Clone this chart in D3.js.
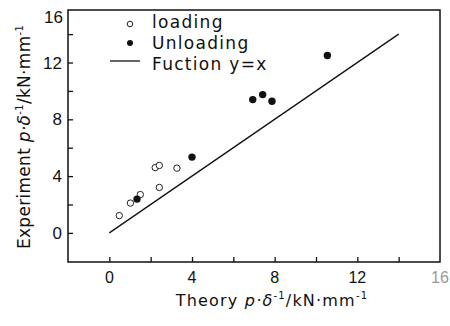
<!DOCTYPE html>
<html>
<head>
<meta charset="utf-8">
<script src="https://cdn.jsdelivr.net/npm/d3@7"></script>
<style>
  body { margin: 0; background: #fff; }
  svg { font-family: "DejaVu Sans", sans-serif; }
</style>
</head>
<body>
<div id="chart"></div>
<script>
const FRAME_WIDTH = 450;
const FRAME_HEIGHT = 326;
const MARGINS = {left: 68, right: 10, top: 10, bottom: 64};

const VIS_WIDTH = FRAME_WIDTH - MARGINS.left - MARGINS.right;
const VIS_HEIGHT = FRAME_HEIGHT - MARGINS.top - MARGINS.bottom;

// data
const loadingX = [0.48, 1.02, 1.5, 2.22, 2.42, 2.42, 3.27];
const loadingY = [1.22, 2.1, 2.7, 4.6, 4.75, 3.2, 4.56];
const unloadingX = [1.34, 4.0, 6.94, 7.42, 7.87, 10.55];
const unloadingY = [2.38, 5.34, 9.39, 9.74, 9.27, 12.5];
const lineX = [0, 14];
const majorTicks = [0, 4, 8, 12];
const minorTicks = [2, 6, 10, 14];

const FRAME = d3.select("#chart")
  .append("svg")
    .attr("width", FRAME_WIDTH)
    .attr("height", FRAME_HEIGHT);

const X_SCALE = d3.scaleLinear().domain([-2, 16]).range([0, VIS_WIDTH]);
const Y_SCALE = d3.scaleLinear().domain([-2.05, 15.7]).range([VIS_HEIGHT, 0]);

const g = FRAME.append("g")
  .attr("transform", "translate(" + MARGINS.left + "," + MARGINS.top + ")");

// frame
g.append("rect")
  .attr("width", VIS_WIDTH)
  .attr("height", VIS_HEIGHT)
  .attr("fill", "none")
  .attr("stroke", "#111")
  .attr("stroke-width", 1.5);

// x axis, ticks pointing inward
const xAxis = g.append("g")
  .attr("transform", "translate(0," + VIS_HEIGHT + ")")
  .call(d3.axisTop(X_SCALE).tickValues(majorTicks.concat(minorTicks)).tickSize(5).tickFormat(""));
xAxis.select(".domain").remove();
xAxis.selectAll("line").attr("stroke", "#111").attr("stroke-width", 1.3);

const xLabels = majorTicks.concat([16]);
g.selectAll(".xlab")
  .data(xLabels)
  .enter()
  .append("text")
    .attr("x", (d) => X_SCALE(d))
    .attr("y", VIS_HEIGHT + 21)
    .attr("text-anchor", "middle")
    .attr("font-family", "Liberation Sans, sans-serif")
    .attr("font-size", 16)
    .attr("fill", (d) => d === 16 ? "#999" : "#111")
    .text((d) => d);

// y axis, ticks pointing inward
const yAxis = g.append("g")
  .call(d3.axisRight(Y_SCALE).tickValues(majorTicks.concat(minorTicks)).tickSize(5).tickFormat(""));
yAxis.select(".domain").remove();
yAxis.selectAll("line").attr("stroke", "#111").attr("stroke-width", 1.3);

g.selectAll(".ylab")
  .data(majorTicks)
  .enter()
  .append("text")
    .attr("x", -6)
    .attr("y", (d) => Y_SCALE(d) + 6)
    .attr("text-anchor", "end")
    .attr("font-family", "Liberation Sans, sans-serif")
    .attr("font-size", 17)
    .attr("fill", "#111")
    .text((d) => d);

// "16" sits against the top of the frame
g.append("text")
  .attr("x", -5)
  .attr("y", 13)
  .attr("text-anchor", "end")
  .attr("font-family", "Liberation Sans, sans-serif")
  .attr("font-size", 17)
  .attr("fill", "#111")
  .text("16");

// y = x line
g.append("line")
  .attr("x1", X_SCALE(lineX[0]))
  .attr("y1", Y_SCALE(lineX[0]))
  .attr("x2", X_SCALE(lineX[1]))
  .attr("y2", Y_SCALE(lineX[1]))
  .attr("stroke", "#111")
  .attr("stroke-width", 1.3);

// loading points (open)
g.selectAll(".load")
  .data(loadingX)
  .enter()
  .append("circle")
    .attr("cx", (d) => X_SCALE(d))
    .attr("cy", (d, i) => Y_SCALE(loadingY[i]))
    .attr("r", 3.2)
    .attr("fill", "#fff")
    .attr("stroke", "#222")
    .attr("stroke-width", 1);

// unloading points (filled)
g.selectAll(".unload")
  .data(unloadingX)
  .enter()
  .append("circle")
    .attr("cx", (d) => X_SCALE(d))
    .attr("cy", (d, i) => Y_SCALE(unloadingY[i]))
    .attr("r", 3.7)
    .attr("fill", "#111");

// legend
const legend = g.append("g").attr("transform", "translate(62,14)");
legend.append("circle").attr("cx", 0).attr("cy", 0).attr("r", 2.8)
  .attr("fill", "#fff").attr("stroke", "#222").attr("stroke-width", 1);
legend.append("circle").attr("cx", 0).attr("cy", 19).attr("r", 3)
  .attr("fill", "#111");
legend.append("line").attr("x1", -20).attr("x2", 10).attr("y1", 37).attr("y2", 37)
  .attr("stroke", "#111").attr("stroke-width", 1.3);
const legendText = ["loading", "Unloading", "Fuction y=x"];
legend.selectAll(".lt")
  .data(legendText)
  .enter()
  .append("text")
    .attr("x", 22)
    .attr("y", (d, i) => i * 21 + 4)
    .attr("font-size", 17)
    .attr("letter-spacing", 1.3)
    .attr("fill", "#111")
    .text((d) => d);

// axis titles
const xt = FRAME.append("text")
  .attr("x", 272)
  .attr("y", 306)
  .attr("text-anchor", "middle")
  .attr("font-size", 16)
  .attr("letter-spacing", 1.2)
  .attr("fill", "#111");
xt.append("tspan").text("Theory ");
xt.append("tspan").attr("font-style", "italic").text("p·δ");
xt.append("tspan").attr("font-size", 10).attr("dy", -7).text("-1");
xt.append("tspan").attr("dy", 7).text("/kN·mm");
xt.append("tspan").attr("font-size", 10).attr("dy", -7).text("-1");

const yt = FRAME.append("text")
  .attr("transform", "translate(30,137) rotate(-90)")
  .attr("text-anchor", "middle")
  .attr("font-size", 17)
  .attr("letter-spacing", 0.3)
  .attr("fill", "#111");
yt.append("tspan").text("Experiment ");
yt.append("tspan").attr("font-style", "italic").text("p·δ");
yt.append("tspan").attr("font-size", 10).attr("dy", -7).text("-1");
yt.append("tspan").attr("dy", 7).text("/kN·mm");
yt.append("tspan").attr("font-size", 10).attr("dy", -7).text("-1");
</script>
</body>
</html>
